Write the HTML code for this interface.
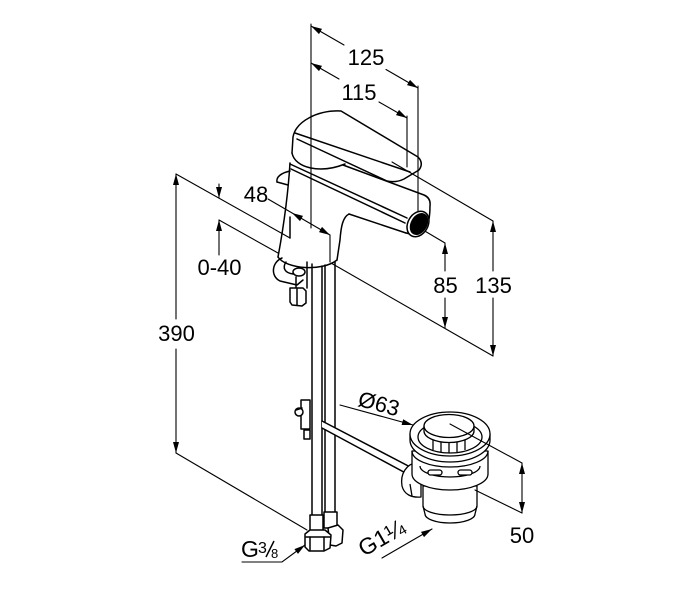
<!DOCTYPE html>
<html><head><meta charset="utf-8"><style>
html,body{margin:0;padding:0;background:#fff;}
svg{display:block;}
text{font-family:"Liberation Sans",Arial,sans-serif;fill:#000;}
</style></head><body>
<svg width="700" height="600" viewBox="0 0 700 600" xmlns="http://www.w3.org/2000/svg">
<rect width="700" height="600" fill="#fff"/>

<!-- dimension / extension lines -->
<g stroke="#000" stroke-width="1.1" fill="none" stroke-linecap="round">
 <line x1="311" y1="24" x2="311" y2="228"/>
 <line x1="418" y1="86" x2="418" y2="212"/>
 <line x1="407" y1="116" x2="407" y2="167"/>
 <line x1="311" y1="26" x2="344" y2="45"/>
 <line x1="386" y1="69.5" x2="418" y2="88"/>
 <line x1="311" y1="63" x2="339" y2="79"/>
 <line x1="379" y1="102" x2="407" y2="118"/>
 <line x1="268" y1="199" x2="330" y2="235"/>
 <line x1="330" y1="235" x2="330" y2="262"/>
 <line x1="176" y1="174" x2="176" y2="319"/>
 <line x1="176" y1="349" x2="176" y2="453"/>
 <line x1="176" y1="174" x2="290" y2="238"/>
 <line x1="176" y1="453" x2="307" y2="530"/>
 <line x1="219" y1="184" x2="219" y2="198"/>
 <line x1="219" y1="220" x2="219" y2="255"/>
 <line x1="219" y1="220" x2="278" y2="253"/>
 <line x1="418" y1="227" x2="445" y2="243"/>
 <line x1="445" y1="243" x2="445" y2="271"/>
 <line x1="445" y1="298" x2="445" y2="328"/>
 <line x1="392" y1="162" x2="493" y2="221"/>
 <line x1="493" y1="221" x2="493" y2="271"/>
 <line x1="493" y1="298" x2="493" y2="356"/>
 <line x1="331" y1="263" x2="493" y2="356"/>
</g>

<!-- faucet -->
<g stroke="#000" stroke-width="1.5" fill="none" stroke-linejoin="round" stroke-linecap="round">
 <path d="M292,153 L293,137 C296,121 318,110 341,111 L418,157 Q424,163 419,170 L404,179 Q396,183 387,181 L297,139"/>
 <path d="M295,133 L410,172"/>
 <path d="M292,153 C295,168 320,174 345,164"/>
 <path d="M290,163 C288,195 283,230 278,257"/>
 <path d="M278,257 C286,269 322,272 337,260"/>
 <path d="M349,214 C343,217 341,226 340,240 L337,260"/>
 <path d="M349,214 L406,233"/>
 <path d="M343,165 L424,195 Q431,198 430,206 C430,220 427,232 419,236 L406,233"/>
 <path d="M290,164 L407,218"/>
 <path d="M291,169 L405,223"/>
 <path d="M290,217 L290,238"/>
 <path d="M277,182 C276,177 281,173 290,171"/>
 <path d="M277,182 L288,185"/>
 <ellipse cx="418" cy="224" rx="10" ry="13.5" transform="rotate(30 418 224)" fill="#fff"/>
 <ellipse cx="419" cy="224" rx="7.5" ry="11" transform="rotate(30 419 224)" fill="#000"/>
 <!-- clamp under base -->
 <path d="M282,258 C272,262 270,276 280,281 L297,285 L303,280"/>
 <path d="M286,262 C282,268 285,273 293,274"/>
 <ellipse cx="299" cy="272" rx="6" ry="4"/>
 <line x1="307" y1="262" x2="307" y2="288"/>
 <line x1="296" y1="277" x2="296" y2="288"/>
 <path d="M290,288 L303,288 L306,291 L306,303 L302,306 L292,305 L290,302 Z" fill="#fff"/>
 <line x1="297" y1="289" x2="297" y2="305"/>
 <!-- pipes -->
 <line x1="312" y1="264" x2="312" y2="515"/>
 <line x1="322" y1="266" x2="322" y2="515"/>
 <line x1="325" y1="265" x2="325" y2="512"/>
 <line x1="335" y1="262" x2="335" y2="512"/>
 <!-- mid clip -->
 <path d="M301,400 L310,400 L310,429 L301,429 Z" fill="#fff"/>
 <circle cx="299" cy="412" r="4" fill="#fff"/>
 <path d="M296,410 L302,408"/>
 <rect x="304" y="430" width="6" height="9" fill="#fff"/>
 <!-- rod to drain -->
 <polygon points="322,421 416,470 413,477 322,428" fill="#fff" stroke="none"/>
 <line x1="322" y1="421" x2="416" y2="470"/>
 <line x1="322" y1="428" x2="413" y2="477"/>
 <!-- fittings bottom -->
 <rect x="324" y="512" width="13" height="16" fill="#fff"/>
 <path d="M328,528 L338,525 L343,530 L342,543 L336,546 L330,545 Z" fill="#fff"/>
 <rect x="310" y="515" width="13" height="18" fill="#fff"/>
 <path d="M305,534 L310,530 L325,530 L331,535 L330,548 L324,551 L309,551 L305,547 Z" fill="#fff"/>
 <line x1="310" y1="537" x2="310" y2="550"/>
 <line x1="324" y1="537" x2="324" y2="550"/>
 <path d="M306,537 L330,537"/>
</g>

<!-- drain -->
<g stroke="#000" stroke-width="1.3" fill="#fff" stroke-linejoin="round">
 <path d="M423,486 L423,506 L425,514 A25 9 0 0 0 475,514 L477,506 L477,486 Z"/>
 <path d="M423,506 A27 9 0 0 0 477,506" fill="none"/>
 <path d="M418,462 C406,464 400,474 402,486 C404,494 411,498 421,497 L421,462 Z"/>
 <path d="M410,484 L412,496" fill="none"/>
 <path d="M412,451 L412,474 A38 16 0 0 0 488,474 L488,451 Z"/>
 <path d="M412,451 A38 16 0 0 0 488,451" fill="none"/>
 <path d="M420,466 A30 11 0 0 0 480,466" fill="none"/>
 <rect x="428" y="470" width="14" height="5" rx="2.5"/>
 <rect x="458" y="470" width="14" height="5" rx="2.5"/>
 <path d="M410,434 L410,440 A40 22 0 0 0 490,440 L490,434 Z"/>
 <ellipse cx="450" cy="434" rx="40" ry="22"/>
 <ellipse cx="450" cy="437" rx="32" ry="16"/>
 <g fill="none">
  <line x1="433" y1="440" x2="433" y2="450"/>
  <line x1="441" y1="441" x2="441" y2="452"/>
  <line x1="449" y1="441" x2="449" y2="453"/>
  <line x1="457" y1="441" x2="457" y2="452"/>
  <line x1="465" y1="440" x2="465" y2="450"/>
 </g>
 <path d="M424,426 L424,431 A25 11.5 0 0 0 474,431 L474,426 Z"/>
 <ellipse cx="449" cy="426" rx="25" ry="11.5"/>
</g>

<g stroke="#000" stroke-width="1.1" fill="none" stroke-linecap="round">
 <line x1="450" y1="424" x2="522" y2="463"/>
 <line x1="475" y1="490" x2="522" y2="513"/>
 <line x1="522" y1="463" x2="522" y2="513"/>
 <line x1="340" y1="405" x2="413" y2="425"/>
 <line x1="382" y1="558" x2="432" y2="529"/>
 <polyline points="242,562 282,562 305,545"/>
</g>

<!-- arrowheads -->
<g fill="#000" stroke="none">
 <polygon points="311,26 322,28.9 319,34.1"/>
 <polygon points="418,88 410,79.9 407,85.1"/>
 <polygon points="311,63 322,65.9 319,71.1"/>
 <polygon points="407,118 399,109.9 396,115.1"/>
 <polygon points="292,213 303,215.9 300,221.1"/>
 <polygon points="330,235 322,226.9 319,232.1"/>
 <polygon points="176,174 173,185 179,185"/>
 <polygon points="176,453 173,442 179,442"/>
 <polygon points="219,198 216,187 222,187"/>
 <polygon points="219,220 216,231 222,231"/>
 <polygon points="445,243 442,254 448,254"/>
 <polygon points="445,328 442,317 448,317"/>
 <polygon points="493,221 490,232 496,232"/>
 <polygon points="493,356 490,345 496,345"/>
 <polygon points="522,463 519,474 525,474"/>
 <polygon points="522,513 519,502 525,502"/>
 <polygon points="413,425 401.6,425 403.2,419.2"/>
 <polygon points="432,529 424,537.1 421,531.9"/>
 <polygon points="305,545 298,553.9 294.4,549.1"/>
</g>

<!-- labels -->
<g font-size="22" text-anchor="middle">
 <text x="366" y="65">125</text>
 <text x="359" y="100">115</text>
 <text x="256" y="202">48</text>
 <text x="219.5" y="275">0-40</text>
 <text x="176.5" y="341">390</text>
 <text x="445.5" y="293">85</text>
 <text x="493.5" y="293">135</text>
 <text x="522" y="543">50</text>
 <text transform="translate(377,411) rotate(15)">Ø63</text>
</g>
<text x="241" y="557" font-size="23">G</text>
<text x="258" y="553" font-size="16">3</text>
<line x1="266" y1="557" x2="274" y2="541" stroke="#000" stroke-width="1.5"/>
<text x="271" y="558" font-size="13">8</text>
<text transform="translate(364,557) rotate(-30)" font-size="23">G1¼</text>
</svg>
</body></html>
